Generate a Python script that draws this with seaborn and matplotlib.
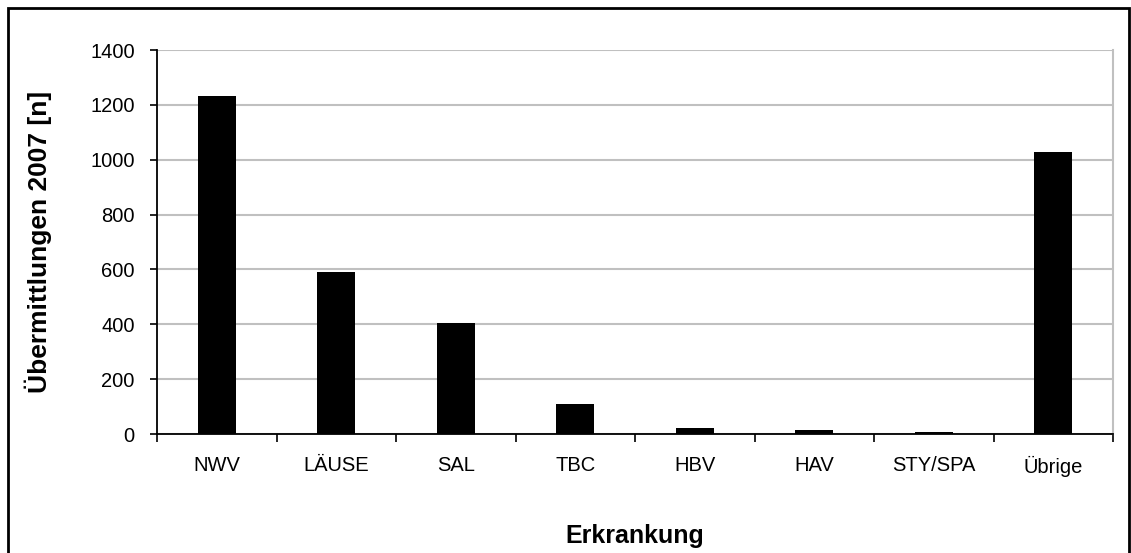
import pandas as pd
import matplotlib
matplotlib.use("Agg")
import matplotlib.pyplot as plt
import seaborn as sns
from matplotlib.patches import Rectangle

# data
categories = ["NWV", "LÄUSE", "SAL", "TBC", "HBV", "HAV", "STY/SPA", "Übrige"]
counts = [1232, 591, 405, 110, 23, 16, 8, 1028]
yticks = [0, 200, 400, 600, 800, 1000, 1200, 1400]

df = pd.DataFrame({"Erkrankung": categories, "n": counts})

sns.set_theme(style="white")
plt.rcParams["font.family"] = ["Liberation Sans", "DejaVu Sans"]
plt.rcParams["text.color"] = "black"
plt.rcParams["axes.labelcolor"] = "black"
plt.rcParams["xtick.color"] = "black"
plt.rcParams["ytick.color"] = "black"

fig = plt.figure(figsize=(11.31, 5.53), dpi=100)
ax = fig.add_axes([157 / 1131, 1 - 434 / 553, (1113 - 157) / 1131, (434 - 50) / 553])

sns.barplot(data=df, x="Erkrankung", y="n", color="black", width=0.32,
            saturation=1, linewidth=0, ax=ax, zorder=3)

ax.set_ylim(0, 1400)
ax.set_xlim(-0.5, len(categories) - 0.5)
ax.set_yticks(yticks)
ax.set_yticklabels([str(v) for v in yticks], fontsize=14.5)
ax.set_xticks(range(len(categories)))
ax.set_xticklabels(categories, fontsize=14.5)
ax.yaxis.grid(True, color="#c0c0c0", linewidth=1.5, zorder=0)

# tick marks sit between categories
ax.set_xticks([i - 0.5 for i in range(len(categories) + 1)], minor=True)
ax.tick_params(axis="x", which="major", length=0, pad=16)
ax.tick_params(axis="x", which="minor", length=6, width=1.2, color="black", direction="out", bottom=True)
ax.tick_params(axis="y", length=5, width=1.2, color="black", direction="out", left=True, pad=11)

for side in ["left", "bottom"]:
    ax.spines[side].set_color("black")
    ax.spines[side].set_linewidth(1.3)
ax.spines["right"].set_color("#c0c0c0")
ax.spines["right"].set_linewidth(1.5)
ax.spines["top"].set_visible(False)

ax.set_xlabel("Erkrankung", fontsize=18, fontweight="bold")
ax.set_ylabel("Übermittlungen 2007 [n]", fontsize=19, fontweight="bold")
ax.xaxis.set_label_coords(0.5, -0.235)
ax.yaxis.set_label_coords(-0.11, 0.5)

# outer frame of the chart area
fig.patches.append(Rectangle((8 / 1131, -0.05), (1129 - 8) / 1131, 1.05 - 8 / 553,
                             transform=fig.transFigure, fill=False,
                             edgecolor="black", linewidth=2))

fig.savefig("out.png", dpi=100)
